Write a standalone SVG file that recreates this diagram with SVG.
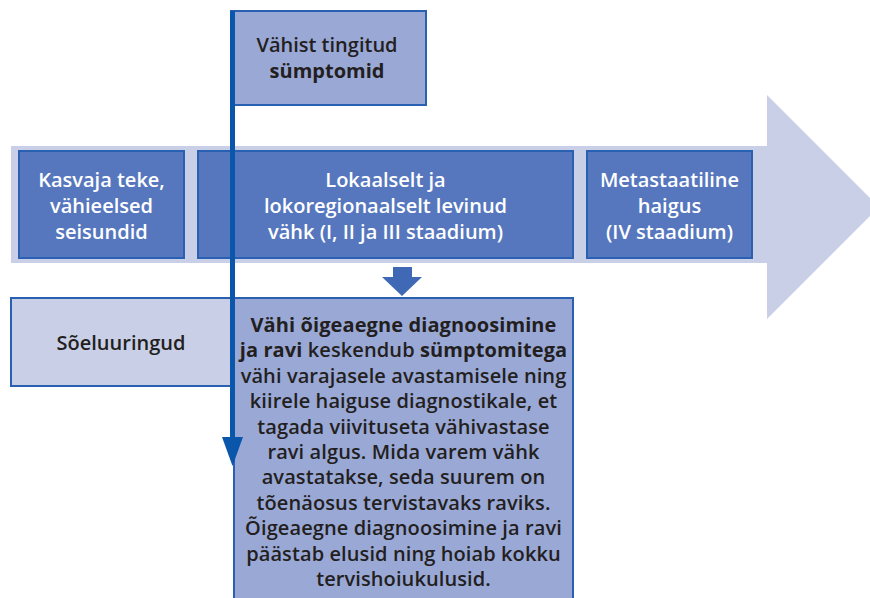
<svg xmlns="http://www.w3.org/2000/svg" width="870" height="598" viewBox="0 0 870 598">
<style>
.t{font-family:"Open Sans","Lato","DejaVu Sans",sans-serif;font-size:20px;text-anchor:middle}
.w{fill:#ffffff;font-weight:600}
.d{fill:#231f20;font-weight:600}
.s{letter-spacing:0.1px}
.b{font-weight:700}
.dark{fill:#5677be;stroke:#2a60b2;stroke-width:2}
.mid{fill:#9aa8d6;stroke:#2a60b2;stroke-width:2}
.light{fill:#c8cfe7;stroke:#2a60b2;stroke-width:2}
</style>
<rect width="870" height="598" fill="#ffffff"/>
<g id="band">
<polygon points="11,146 767,146 767,95 879,207 767,319 767,263 11,263" fill="#c8cfe7"/>
</g>
<g id="node-kasvaja">
<rect class="dark" x="19" y="151" width="165" height="107"/>
<text class="t w" x="101.5" y="187">Kasvaja teke,</text>
<text class="t w" x="101.5" y="213">vähieelsed</text>
<text class="t w" x="101.5" y="239">seisundid</text>
</g>
<g id="node-lokaalselt">
<rect class="dark" x="198" y="151" width="375" height="107"/>
<text class="t w" x="385.5" y="187">Lokaalselt ja</text>
<text class="t w" x="385.5" y="213">lokoregionaalselt levinud</text>
<text class="t w" x="385.5" y="239">vähk (I, II ja III staadium)</text>
</g>
<g id="node-metastaatiline">
<rect class="dark" x="587" y="151" width="165" height="107"/>
<text class="t w" x="669.5" y="187">Metastaatiline</text>
<text class="t w" x="669.5" y="213">haigus</text>
<text class="t w" x="669.5" y="239">(IV staadium)</text>
</g>
<g id="node-symptomid">
<rect class="mid" x="231" y="11" width="195" height="94"/>
<text class="t d" x="327" y="52">Vähist tingitud</text>
<text class="t d b" x="327" y="78">sümptomid</text>
</g>
<g id="node-soeluuringud">
<rect class="light" x="11" y="298" width="222" height="88"/>
<text class="t d" x="121" y="350">Sõeluuringud</text>
</g>
<g id="node-diagnoosimine">
<rect class="mid" x="234" y="298" width="339" height="310"/>
<text class="t d s" x="403.5" y="332"><tspan class="b">Vähi õigeaegne diagnoosimine</tspan></text>
<text class="t d s" x="403.5" y="357.4"><tspan class="b">ja ravi</tspan> keskendub <tspan class="b">sümptomitega</tspan></text>
<text class="t d s" x="403.5" y="382.8">vähi varajasele avastamisele ning</text>
<text class="t d s" x="403.5" y="408.2">kiirele haiguse diagnostikale, et</text>
<text class="t d s" x="403.5" y="433.6">tagada viivituseta vähivastase</text>
<text class="t d s" x="403.5" y="459">ravi algus. Mida varem vähk</text>
<text class="t d s" x="403.5" y="484.4">avastatakse, seda suurem on</text>
<text class="t d s" x="403.5" y="509.8">tõenäosus tervistavaks raviks.</text>
<text class="t d s" x="403.5" y="535.2">Õigeaegne diagnoosimine ja ravi</text>
<text class="t d s" x="403.5" y="560.6">päästab elusid ning hoiab kokku</text>
<text class="t d s" x="403.5" y="586">tervishoiukulusid.</text>
</g>
<g id="connectors">
<line x1="232.5" y1="11" x2="232.5" y2="440" stroke="#0a56ab" stroke-width="5"/>
<polygon points="222,437 243,437 232.5,466" fill="#0a56ab"/>
<polygon points="393,267 412,267 412,277 422,277 402,296 382,277 393,277" fill="#3f69b5"/>
</g>
</svg>
